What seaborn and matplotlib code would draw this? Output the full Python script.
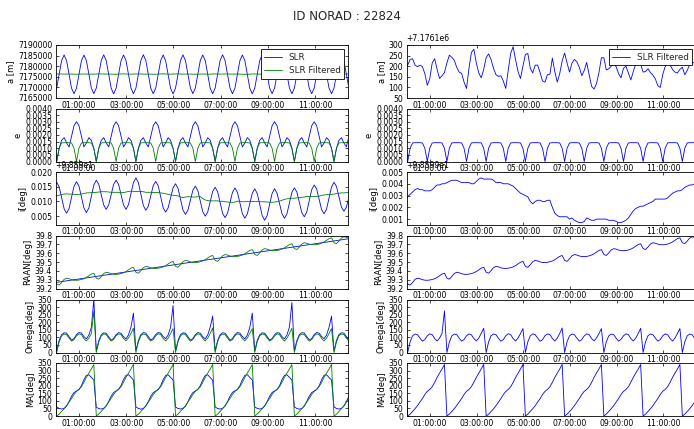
import matplotlib
matplotlib.use("Agg")
import matplotlib.pyplot as plt
import matplotlib.dates as mdates
from matplotlib.ticker import ScalarFormatter, FormatStrFormatter, FixedLocator
import pandas as pd
import seaborn as sns

# ---------------- data (sampled every 378 s) ----------------
SAMPLE_START = "1999-12-31 23:56:42"
SAMPLE_STEP = "378s"
N_SAMPLES = 120
X_START = "2000-01-01 00:00:00"
X_END = "2000-01-01 12:25:00"
hour_ticks = [1, 3, 5, 7, 9, 11]

a_slr = [
    7167100, 7169700, 7176200, 7182650, 7185300, 7182600, 7176150, 7169650,
    7167000, 7169650, 7176100, 7182600, 7185250, 7182650, 7176200, 7169700,
    7167050, 7169700, 7176150, 7182650, 7185350, 7182700, 7176200, 7169650,
    7166950, 7169600, 7176100, 7182600, 7185300, 7182650, 7176150, 7169700,
    7167000, 7169700, 7176200, 7182700, 7185400, 7182700, 7176200, 7169650,
    7167000, 7169650, 7176150, 7182650, 7185300, 7182600, 7176100, 7169600,
    7166950, 7169650, 7176150, 7182650, 7185350, 7182700, 7176200, 7169700,
    7167050, 7169700, 7176200, 7182650, 7185300, 7182650, 7176150, 7169650,
    7167000, 7169650, 7176150, 7182700, 7185400, 7182700, 7176150, 7169650,
    7167000, 7169700, 7176200, 7182650, 7185300, 7182600, 7176100, 7169600,
    7166950, 7169650, 7176150, 7182650, 7185300, 7182650, 7176150, 7169700,
    7167050, 7169700, 7176200, 7182700, 7185350, 7182700, 7176200, 7169700,
    7167000, 7169650, 7176150, 7182650, 7185300, 7182650, 7176150, 7169650,
    7167000, 7169700, 7176200, 7182650, 7185300, 7182600, 7176100, 7169650,
    7167000, 7169650, 7176150, 7182650, 7185300, 7182650, 7176150, 7169700,
]

a_filt = [
    7176285, 7176305, 7176332, 7176335, 7176305, 7176298, 7176305, 7176298, 7176265, 7176210,
    7176240, 7176315, 7176335, 7176285, 7176242, 7176255, 7176270, 7176315, 7176352, 7176342,
    7176328, 7176295, 7176272, 7176266, 7176225, 7176195, 7176290, 7176365, 7176380, 7176315,
    7176268, 7176245, 7176285, 7176340, 7176358, 7176332, 7176290, 7176260, 7176252, 7176255,
    7176230, 7176195, 7176280, 7176360, 7176392, 7176330, 7176275, 7176242, 7176300, 7176355,
    7176360, 7176290, 7176268, 7176305, 7176305, 7176270, 7176230, 7176225, 7176260, 7176262,
    7176338, 7176275, 7176225, 7176265, 7176325, 7176362, 7176315, 7176272, 7176315, 7176332,
    7176320, 7176295, 7176255, 7176280, 7176318, 7176260, 7176205, 7176192, 7176218, 7176270,
    7176340, 7176340, 7176282, 7176288, 7176300, 7176308, 7176298, 7176265, 7176245, 7176290,
    7176300, 7176268, 7176235, 7176275, 7176310, 7176318, 7176310, 7176272, 7176275, 7176288,
    7176270, 7176258, 7176240, 7176208, 7176200, 7176260, 7176298, 7176318, 7176305, 7176285,
    7176272, 7176268, 7176285, 7176295, 7176260, 7176280, 7176308, 7176315, 7176318, 7176320,
]

e_slr = [
    0.0010,
    0.0000, 0.0010, 0.0016, 0.0018, 0.0014, 0.0011, 0.0019, 0.0027, 0.0030, 0.0027, 0.0019, 0.0011, 0.0014, 0.0018, 0.0016, 0.0010,
    0.0000, 0.0010, 0.0016, 0.0018, 0.0014, 0.0011, 0.0019, 0.0027, 0.0030, 0.0027, 0.0019, 0.0011, 0.0014, 0.0018, 0.0016, 0.0010,
    0.0000, 0.0010, 0.0016, 0.0018, 0.0014, 0.0011, 0.0019, 0.0027, 0.0030, 0.0027, 0.0019, 0.0011, 0.0014, 0.0018, 0.0016, 0.0010,
    0.0000, 0.0010, 0.0016, 0.0018, 0.0014, 0.0011, 0.0019, 0.0027, 0.0030, 0.0027, 0.0019, 0.0011, 0.0014, 0.0018, 0.0016, 0.0010,
    0.0000, 0.0010, 0.0016, 0.0018, 0.0014, 0.0011, 0.0019, 0.0027, 0.0030, 0.0027, 0.0019, 0.0011, 0.0014, 0.0018, 0.0016, 0.0010,
    0.0000, 0.0010, 0.0016, 0.0018, 0.0014, 0.0011, 0.0019, 0.0027, 0.0030, 0.0027, 0.0019, 0.0011, 0.0014, 0.0018, 0.0016, 0.0010,
    0.0000, 0.0010, 0.0016, 0.0018, 0.0014, 0.0011, 0.0019, 0.0027, 0.0030, 0.0027, 0.0019, 0.0011, 0.0014, 0.0018, 0.0016, 0.0010,
    0.0000, 0.0010, 0.0016, 0.0018, 0.0014, 0.0011, 0.0019,
]

e_filt = [
    0.0010,
    0.0000, 0.0010, 0.0014, 0.00142, 0.00142, 0.00142, 0.0014, 0.0010, 0.0000, 0.0010, 0.0014, 0.00142, 0.00142, 0.00142, 0.0014, 0.0010,
    0.0000, 0.0010, 0.0014, 0.00142, 0.00142, 0.00142, 0.0014, 0.0010, 0.0000, 0.0010, 0.0014, 0.00142, 0.00142, 0.00142, 0.0014, 0.0010,
    0.0000, 0.0010, 0.0014, 0.00142, 0.00142, 0.00142, 0.0014, 0.0010, 0.0000, 0.0010, 0.0014, 0.00142, 0.00142, 0.00142, 0.0014, 0.0010,
    0.0000, 0.0010, 0.0014, 0.00142, 0.00142, 0.00142, 0.0014, 0.0010, 0.0000, 0.0010, 0.0014, 0.00142, 0.00142, 0.00142, 0.0014, 0.0010,
    0.0000, 0.0010, 0.0014, 0.00142, 0.00142, 0.00142, 0.0014, 0.0010, 0.0000, 0.0010, 0.0014, 0.00142, 0.00142, 0.00142, 0.0014, 0.0010,
    0.0000, 0.0010, 0.0014, 0.00142, 0.00142, 0.00142, 0.0014, 0.0010, 0.0000, 0.0010, 0.0014, 0.00142, 0.00142, 0.00142, 0.0014, 0.0010,
    0.0000, 0.0010, 0.0014, 0.00142, 0.00142, 0.00142, 0.0014, 0.0010, 0.0000, 0.0010, 0.0014, 0.00142, 0.00142, 0.00142, 0.0014, 0.0010,
    0.0000, 0.0010, 0.0014, 0.00142, 0.00142, 0.00142, 0.0014,
]

i_slr = [
    98.6050, 98.6065, 98.6050, 98.6013, 98.5975, 98.5960, 98.5976, 98.6014, 98.6051, 98.6067,
    98.6052, 98.6015, 98.5978, 98.5962, 98.5978, 98.6017, 98.6056, 98.6072, 98.6058, 98.6023,
    98.5988, 98.5973, 98.5988, 98.6023, 98.6058, 98.6072, 98.6058, 98.6023, 98.5988, 98.5973,
    98.5989, 98.6027, 98.6064, 98.6080, 98.6064, 98.6025, 98.5986, 98.5970, 98.5984, 98.6019,
    98.6054, 98.6068, 98.6053, 98.6016, 98.5979, 98.5964, 98.5978, 98.6012, 98.6046, 98.6060,
    98.6045, 98.6008, 98.5971, 98.5956, 98.5970, 98.6004, 98.6038, 98.6052, 98.6037, 98.6001,
    98.5965, 98.5950, 98.5964, 98.5999, 98.6034, 98.6048, 98.6033, 98.5997, 98.5960, 98.5945,
    98.5960, 98.5996, 98.6031, 98.6046, 98.6031, 98.5995, 98.5958, 98.5943, 98.5958, 98.5993,
    98.6028, 98.6043, 98.6027, 98.5990, 98.5952, 98.5936, 98.5952, 98.5990, 98.6027, 98.6043,
    98.6028, 98.5993, 98.5958, 98.5943, 98.5958, 98.5995, 98.6031, 98.6046, 98.6032, 98.5997,
    98.5962, 98.5948, 98.5964, 98.6002, 98.6040, 98.6056, 98.6042, 98.6007, 98.5972, 98.5958,
    98.5974, 98.6012, 98.6049, 98.6065, 98.6051, 98.6016, 98.5981, 98.5967, 98.5980, 98.6014,
]

i_filt = [
    98.6017, 98.6019, 98.6021, 98.6023, 98.6025, 98.6026, 98.6025, 98.6025, 98.6024, 98.6024,
    98.6024, 98.6025, 98.6027, 98.6029, 98.6029, 98.6030, 98.6030, 98.6031, 98.6032, 98.6033,
    98.6033, 98.6033, 98.6032, 98.6031, 98.6031, 98.6031, 98.6031, 98.6030, 98.6030, 98.6032,
    98.6034, 98.6035, 98.6034, 98.6034, 98.6034, 98.6034, 98.6033, 98.6031, 98.6031, 98.6031,
    98.6030, 98.6030, 98.6030, 98.6029, 98.6028, 98.6026, 98.6024, 98.6022, 98.6021, 98.6020,
    98.6019, 98.6015, 98.6013, 98.6015, 98.6016, 98.6016, 98.6015, 98.6015, 98.6016, 98.6016,
    98.6010, 98.6005, 98.6003, 98.6002, 98.6002, 98.6002, 98.6002, 98.6000, 98.6001, 98.5999,
    98.5998, 98.5997, 98.5997, 98.5998, 98.6001, 98.6000, 98.5999, 98.5999, 98.6000, 98.6000,
    98.6000, 98.6000, 98.6000, 98.5999, 98.5999, 98.5999, 98.5998, 98.5997, 98.5997, 98.5998,
    98.5999, 98.6001, 98.6004, 98.6007, 98.6009, 98.6010, 98.6011, 98.6011, 98.6012, 98.6013,
    98.6014, 98.6015, 98.6017, 98.6017, 98.6017, 98.6017, 98.6017, 98.6018, 98.6020, 98.6022,
    98.6023, 98.6024, 98.6024, 98.6025, 98.6027, 98.6028, 98.6029, 98.6029, 98.6030, 98.6030,
]

raan_slr_idx = [0, 16, 32, 48, 64, 80, 96, 112, 119]
raan_slr = [39.2658, 39.3327, 39.3997, 39.4666, 39.5335, 39.6004, 39.6674, 39.7343, 39.7636]

raan_filt = [
    39.306, 39.250, 39.239, 39.268, 39.303, 39.317, 39.311, 39.300, 39.294, 39.293,
    39.296, 39.302, 39.311, 39.325, 39.344, 39.364, 39.373, 39.317, 39.306, 39.335,
    39.370, 39.384, 39.378, 39.367, 39.361, 39.360, 39.363, 39.369, 39.378, 39.392,
    39.411, 39.431, 39.440, 39.384, 39.373, 39.402, 39.436, 39.451, 39.445, 39.434,
    39.428, 39.427, 39.430, 39.436, 39.445, 39.459, 39.478, 39.497, 39.507, 39.451,
    39.440, 39.469, 39.503, 39.518, 39.512, 39.501, 39.495, 39.494, 39.496, 39.503,
    39.512, 39.526, 39.545, 39.564, 39.574, 39.518, 39.507, 39.536, 39.570, 39.584,
    39.579, 39.568, 39.562, 39.561, 39.563, 39.570, 39.579, 39.593, 39.612, 39.631,
    39.640, 39.585, 39.574, 39.603, 39.637, 39.651, 39.646, 39.635, 39.629, 39.628,
    39.630, 39.636, 39.646, 39.660, 39.679, 39.698, 39.707, 39.652, 39.641, 39.670,
    39.704, 39.718, 39.712, 39.702, 39.696, 39.695, 39.697, 39.703, 39.713, 39.727,
    39.746, 39.765, 39.774, 39.718, 39.708, 39.737, 39.771, 39.785, 39.779, 39.769,
]

omega_slr = [
    300,
    10, 80, 118, 130, 128, 105, 82, 92, 118, 132, 128, 105, 90, 115, 165, 350,
    10, 78, 117, 130, 127, 104, 82, 92, 118, 131, 127, 104, 90, 116, 168, 260,
    12, 80, 118, 131, 128, 105, 83, 93, 119, 132, 128, 105, 91, 115, 166, 310,
    10, 79, 118, 130, 128, 104, 82, 92, 118, 132, 127, 104, 90, 116, 167, 240,
    11, 80, 118, 130, 128, 105, 82, 92, 118, 132, 128, 105, 90, 115, 166, 260,
    10, 80, 117, 130, 127, 105, 82, 92, 117, 131, 128, 104, 90, 116, 168, 330,
    10, 79, 118, 131, 128, 105, 83, 92, 118, 132, 128, 105, 91, 115, 166, 240,
    10, 80, 118, 130, 128, 105, 82,
]

omega_filt = [
    160,
    0, 70, 110, 122, 118, 95, 75, 85, 110, 123, 118, 92, 76, 95, 125, 275,
    0, 69, 110, 122, 118, 95, 75, 86, 110, 123, 117, 92, 77, 96, 126, 160,
    0, 70, 111, 122, 118, 94, 75, 85, 110, 124, 118, 92, 76, 95, 125, 158,
    0, 70, 110, 123, 118, 95, 74, 85, 111, 123, 118, 93, 76, 95, 126, 162,
    0, 71, 110, 122, 117, 95, 75, 85, 110, 123, 118, 92, 77, 96, 125, 158,
    0, 70, 110, 122, 118, 95, 75, 86, 110, 123, 118, 92, 76, 95, 125, 160,
    0, 70, 111, 122, 118, 95, 75, 85, 110, 123, 118, 92, 76, 95, 126, 158,
    0, 70, 110, 122, 118, 95, 75,
]

ma_slr = [
    238,
    60, 50, 46, 50, 65, 95, 130, 155, 165, 175, 200, 240, 268, 272, 255, 238,
    58, 49, 46, 51, 66, 96, 131, 155, 166, 176, 201, 241, 268, 273, 256, 237,
    60, 50, 45, 50, 65, 95, 130, 154, 165, 175, 200, 240, 267, 272, 255, 238,
    59, 50, 46, 50, 64, 94, 130, 155, 165, 176, 200, 239, 268, 272, 254, 236,
    60, 49, 46, 51, 65, 95, 131, 156, 166, 175, 201, 240, 268, 273, 255, 238,
    60, 50, 46, 50, 65, 95, 130, 155, 165, 175, 200, 240, 268, 272, 255, 237,
    59, 50, 45, 50, 65, 96, 130, 155, 165, 175, 199, 240, 269, 272, 254, 238,
    60, 50, 46, 50, 65, 95, 130,
]

ma_filt = [
    340,
    0, 12, 30, 48, 68, 92, 115, 142, 163, 175, 193, 222, 255, 283, 310, 340,
    0, 13, 30, 48, 69, 92, 116, 142, 163, 175, 194, 223, 255, 283, 311, 341,
    0, 12, 30, 47, 68, 91, 115, 141, 162, 175, 193, 222, 254, 282, 310, 340,
    0, 12, 31, 48, 68, 92, 115, 142, 163, 176, 193, 222, 255, 283, 310, 341,
    0, 12, 30, 48, 68, 92, 116, 142, 163, 175, 193, 222, 255, 284, 311, 340,
    0, 13, 30, 48, 68, 92, 115, 142, 163, 175, 193, 223, 255, 283, 310, 340,
    0, 12, 30, 48, 68, 92, 115, 142, 163, 175, 194, 222, 255, 283, 310, 341,
    0, 12, 30, 48, 68, 92, 115,
]

# ---------------- style ----------------
sns.set_theme(style="white")
plt.rcParams.update({
    "font.family": ["DejaVu Sans"],
    "axes.edgecolor": "black",
    "axes.linewidth": 0.6,
    "axes.facecolor": "white",
    "xtick.direction": "in", "ytick.direction": "in",
    "xtick.top": True, "ytick.right": True,
    "xtick.bottom": True, "ytick.left": True,
    "xtick.major.size": 2.5, "ytick.major.size": 2.5,
    "xtick.major.width": 0.5, "ytick.major.width": 0.5,
    "xtick.major.pad": 1.8, "ytick.major.pad": 2.4,
    "xtick.labelsize": 5.6, "ytick.labelsize": 5.6,
    "xtick.color": "black", "ytick.color": "black",
    "axes.labelsize": 6.0, "axes.labelpad": 2.0,
    "axes.labelcolor": "black",
})

BLUE = "#0000ff"
GREEN = "#008000"
LW = 0.6

times = pd.date_range(SAMPLE_START, periods=N_SAMPLES, freq=SAMPLE_STEP)
for name, arr in [("a_slr", a_slr), ("a_filt", a_filt), ("e_slr", e_slr), ("e_filt", e_filt),
                  ("i_slr", i_slr), ("i_filt", i_filt), ("raan_filt", raan_filt),
                  ("omega_slr", omega_slr), ("omega_filt", omega_filt),
                  ("ma_slr", ma_slr), ("ma_filt", ma_filt)]:
    assert len(arr) == N_SAMPLES, (name, len(arr))

raan_slr_times = times[raan_slr_idx]

fig = plt.figure(figsize=(6.94, 4.29), dpi=100)
H = 429.0
W = 694.0
row_tops = [45, 108.5, 172, 235.5, 299.5, 363]
row_h = 53
left_x0, left_w = 55.5, 292.8
right_x0, right_w = 406.5, 290.0

rows = [
    dict(label="a [m]",
         left=[(times, a_slr, BLUE, "SLR"), (times, a_filt, GREEN, "SLR Filtered")],
         right=[(times, a_filt, BLUE, "SLR Filtered")],
         lylim=(7165000, 7190000), lyticks=list(range(7165000, 7190001, 5000)), loff=False,
         rylim=(7176150, 7176400), ryticks=list(range(7176150, 7176401, 50)), roff=7176100,
         legend=True),
    dict(label="e",
         left=[(times, e_slr, BLUE, "SLR"), (times, e_filt, GREEN, "SLR Filtered")],
         right=[(times, e_filt, BLUE, "SLR Filtered")],
         lylim=(0, 0.004), lyticks=[k * 0.0005 for k in range(9)], loff="fmt4",
         rylim=(0, 0.004), ryticks=[k * 0.0005 for k in range(9)], roff="fmt4"),
    dict(label="i[deg]",
         left=[(times, i_slr, BLUE, "SLR"), (times, i_filt, GREEN, "SLR Filtered")],
         right=[(times, i_filt, BLUE, "SLR Filtered")],
         lylim=(98.592, 98.610), lyticks=[98.595, 98.600, 98.605, 98.610], loff=98.59,
         rylim=(98.5995, 98.604), ryticks=[98.600, 98.601, 98.602, 98.603, 98.604], roff=98.599),
    dict(label="RAAN[deg]",
         left=[(raan_slr_times, raan_slr, BLUE, "SLR"), (times, raan_filt, GREEN, "SLR Filtered")],
         right=[(times, raan_filt, BLUE, "SLR Filtered")],
         lylim=(39.2, 39.8), lyticks=[39.2, 39.3, 39.4, 39.5, 39.6, 39.7, 39.8], loff=False,
         rylim=(39.2, 39.8), ryticks=[39.2, 39.3, 39.4, 39.5, 39.6, 39.7, 39.8], roff=False),
    dict(label="Omega[deg]",
         left=[(times, omega_slr, BLUE, "SLR"), (times, omega_filt, GREEN, "SLR Filtered")],
         right=[(times, omega_filt, BLUE, "SLR Filtered")],
         lylim=(0, 350), lyticks=list(range(0, 351, 50)), loff=False,
         rylim=(0, 350), ryticks=list(range(0, 351, 50)), roff=False),
    dict(label="MA[deg]",
         left=[(times, ma_slr, BLUE, "SLR"), (times, ma_filt, GREEN, "SLR Filtered")],
         right=[(times, ma_filt, BLUE, "SLR Filtered")],
         lylim=(0, 350), lyticks=list(range(0, 351, 50)), loff=False,
         rylim=(0, 350), ryticks=list(range(0, 351, 50)), roff=False),
]

xlo = pd.Timestamp(X_START)
xhi = pd.Timestamp(X_END)


def style_axis(ax, ylim, yticks, off, label):
    ax.set_xlim(xlo, xhi)
    ax.xaxis.set_major_locator(mdates.HourLocator(byhour=hour_ticks))
    ax.xaxis.set_major_formatter(mdates.DateFormatter("%H:%M:%S"))
    ax.set_ylim(*ylim)
    ax.yaxis.set_major_locator(FixedLocator(yticks))
    if off == "fmt4":
        ax.yaxis.set_major_formatter(FormatStrFormatter("%.4f"))
    elif off is False:
        fm = ScalarFormatter(useOffset=False)
        fm.set_scientific(False)
        ax.yaxis.set_major_formatter(fm)
    else:
        fm = ScalarFormatter(useOffset=off)
        fm.set_scientific(False)
        ax.yaxis.set_major_formatter(fm)
    ax.yaxis.get_offset_text().set_fontsize(5.6)
    ax.set_xlabel("")
    ax.set_ylabel(label)
    ax.tick_params(which="both", direction="in", top=True, right=True)
    for s in ax.spines.values():
        s.set_color("black")
        s.set_linewidth(0.6)


for r, row in enumerate(rows):
    bottom = 1 - (row_tops[r] + row_h) / H
    axl = fig.add_axes([left_x0 / W, bottom, left_w / W, row_h / H])
    axr = fig.add_axes([right_x0 / W, bottom, right_w / W, row_h / H])
    for x, y, c, lab in row["left"]:
        sns.lineplot(x=x, y=y, ax=axl, color=c, linewidth=LW, label=lab,
                     estimator=None, sort=False, legend=False)
    for x, y, c, lab in row["right"]:
        sns.lineplot(x=x, y=y, ax=axr, color=c, linewidth=LW, label=lab,
                     estimator=None, sort=False, legend=False)
    style_axis(axl, row["lylim"], row["lyticks"], row["loff"], row["label"])
    style_axis(axr, row["rylim"], row["ryticks"], row["roff"], row["label"])
    if row.get("legend"):
        for ax in (axl, axr):
            leg = ax.legend(loc="upper right", fontsize=6.3, frameon=True, fancybox=False,
                            framealpha=1, edgecolor="black", borderpad=0.4,
                            labelspacing=0.5, handlelength=2.0, handletextpad=0.8,
                            borderaxespad=0.5)
            leg.get_frame().set_linewidth(0.6)
    else:
        for ax in (axl, axr):
            lg = ax.get_legend()
            if lg is not None:
                lg.remove()

fig.suptitle("ID NORAD : 22824", fontsize=8.5, y=1 - 17 / H, va="center")
fig.savefig("out.png", dpi=100)
